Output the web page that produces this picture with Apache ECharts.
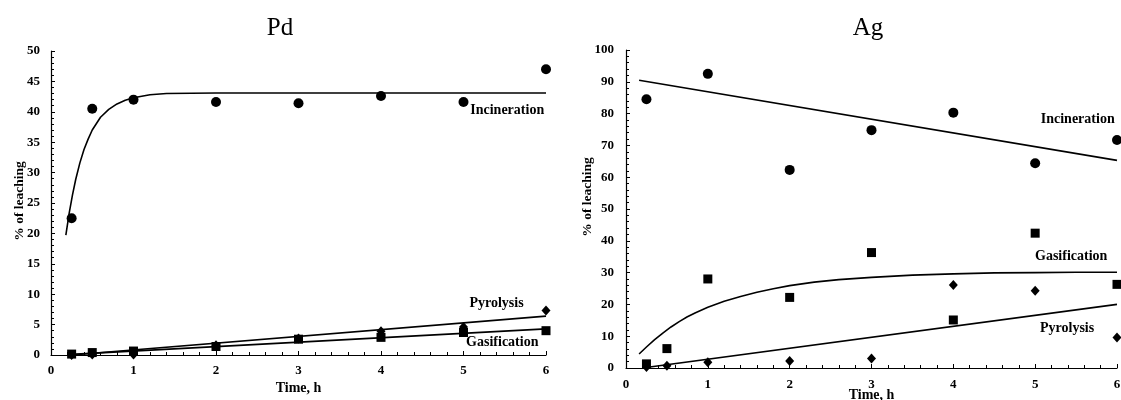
<!DOCTYPE html>
<html><head><meta charset="utf-8">
<script src="https://cdn.jsdelivr.net/npm/echarts@6/dist/echarts.min.js"></script>
<style>html,body{margin:0;padding:0;background:#fff}#c{width:1121px;height:400px}</style>
</head><body><div id="c"></div>
<script>
// ---- data ----
const timeH = [0.25, 0.5, 1, 2, 3, 4, 5, 6];
const xTicks = [0, 1, 2, 3, 4, 5, 6];

// Pd
const pdIncineration = [22.5, 40.5, 42.0, 41.6, 41.4, 42.6, 41.6, 47.0];
const pdPyrolysis    = [0.0, 0.1, 0.1, 1.6, 2.7, 3.9, 4.6, 7.3];
const pdGasification = [0.15, 0.4, 0.65, 1.4, 2.6, 2.9, 3.7, 4.0];
const pdIncFitX = [0.18, 0.22, 0.26, 0.30, 0.35, 0.40, 0.45, 0.5, 0.6, 0.7, 0.8, 0.9, 1.0, 1.2, 1.4, 1.7, 2, 3, 4, 5, 6];
const pdIncFitY = [19.7, 23.3, 26.3, 28.9, 31.6, 33.8, 35.5, 37.0, 39.1, 40.4, 41.3, 41.9, 42.3, 42.8, 43.0, 43.05, 43.1, 43.1, 43.1, 43.1, 43.1];
const pdPyrFitX = [0.25, 6];
const pdPyrFitY = [0.0, 6.4];
const pdGasFitX = [0.25, 6];
const pdGasFitY = [0.1, 4.3];

// Ag
const agIncineration = [84.5, null, 92.5, 62.3, 74.8, 80.3, 64.4, 71.7];
const agGasification = [1.3, 6.1, 28.0, 22.2, 36.3, 15.1, 42.4, 26.3];
const agPyrolysis    = [0.3, 0.7, 1.8, 2.2, 3.0, 26.1, 24.3, 9.6];
const agIncFitX = [0.16, 6];
const agIncFitY = [90.5, 65.3];
const agGasFitX = [0.16, 0.25, 0.35, 0.45, 0.55, 0.65, 0.75, 0.85, 1.0, 1.2, 1.4, 1.6, 1.8, 2.0, 2.3, 2.6, 3.0, 3.5, 4.0, 4.5, 5.0, 5.5, 6.0];
const agGasFitY = [4.4, 6.6, 8.9, 11.0, 12.9, 14.6, 16.1, 17.4, 19.1, 21.0, 22.5, 23.8, 24.9, 25.9, 27.0, 27.8, 28.5, 29.2, 29.6, 29.9, 30.0, 30.1, 30.1];
const agPyrFitX = [0.2, 6];
const agPyrFitY = [0.0, 20.0];

const zip = (xs, ys) => xs.map((x, i) => [x, ys[i]]).filter(p => p[1] !== null);

// ---- styling ----
const FONT = 'Liberation Serif';
const black = '#000';
const lblStyle = { fontFamily: FONT, fontWeight: 'bold', fontSize: 14, color: black };

function xAxisCfg(gi, nameGap, margin) {
  return {
    gridIndex: gi, type: 'value', min: 0, max: 6, interval: 1,
    name: 'Time, h', nameLocation: 'middle', nameGap: nameGap, nameMoveOverlap: false,
    nameTextStyle: { fontFamily: FONT, fontWeight: 'bold', fontSize: 14, color: black },
    axisLine: { show: true, onZero: false, lineStyle: { color: black, width: 1.2 } },
    axisTick: { show: true, inside: true, length: 4, lineStyle: { color: black } },
    minorTick: { show: true, splitNumber: 5, length: 3, lineStyle: { color: black } },
    axisLabel: { fontFamily: FONT, fontWeight: 'bold', fontSize: 13, color: black, margin: margin,
                 formatter: v => xTicks.includes(v) ? String(v) : '' },
    splitLine: { show: false }, minorSplitLine: { show: false }
  };
}
function yAxisCfg(gi, max, interval, nameGap, margin, shift) {
  return {
    gridIndex: gi, type: 'value', min: 0, max: max, interval: interval,
    name: '% of leaching', nameLocation: 'middle', nameGap: nameGap, nameRotate: 90,
    nameMoveOverlap: false,
    nameTextStyle: { fontFamily: FONT, fontWeight: 'bold', fontSize: 13.5, color: black,
                     padding: [0, 0, 0, shift] },
    axisLine: { show: true, onZero: false, lineStyle: { color: black, width: 1.2 } },
    axisTick: { show: true, inside: true, length: 4, lineStyle: { color: black } },
    minorTick: { show: true, splitNumber: 5, length: 3, lineStyle: { color: black } },
    axisLabel: { fontFamily: FONT, fontWeight: 'bold', fontSize: 13, color: black, margin: margin },
    splitLine: { show: false }, minorSplitLine: { show: false }
  };
}
function scatter(gi, data, symbol, size) {
  return { type: 'scatter', xAxisIndex: gi, yAxisIndex: gi, data: data, symbol: symbol,
           symbolSize: size, itemStyle: { color: black, opacity: 1 }, z: 3, silent: true };
}
function fit(gi, data, label) {
  const s = { type: 'line', xAxisIndex: gi, yAxisIndex: gi, data: data, symbol: 'none',
              smooth: false, lineStyle: { color: black, width: 1.6 },
              z: 2, silent: true };
  if (label) {
    s.markPoint = { symbol: 'circle', symbolSize: 0, silent: true,
      data: [{ coord: label.coord, label: Object.assign({ show: true, position: 'inside',
        formatter: label.text }, lblStyle) }] };
  }
  return s;
}

const chart = echarts.init(document.getElementById('c'), null, { renderer: 'canvas' });
chart.setOption({
  animation: false,
  backgroundColor: '#fff',
  graphic: [
    { type: 'text', x: 280, y: 16, style: { text: 'Pd', fontFamily: FONT, fontSize: 25, fill: black, textAlign: 'center' } },
    { type: 'text', x: 868, y: 16, style: { text: 'Ag', fontFamily: FONT, fontSize: 25, fill: black, textAlign: 'center' } }
  ],
  grid: [
    { left: 51, top: 51, width: 495, height: 304, outerBoundsMode: 'none', containLabel: false },
    { left: 626, top: 50, width: 491, height: 318, outerBoundsMode: 'none', containLabel: false }
  ],
  xAxis: [xAxisCfg(0, 26, 9), xAxisCfg(1, 20, 10)],
  yAxis: [yAxisCfg(0, 50, 5, 24, 11, 4), yAxisCfg(1, 100, 10, 31, 12, 24)],
  series: [
    fit(0, zip(pdIncFitX, pdIncFitY), { coord: [5.53, 40.3], text: 'Incineration' }),
    fit(0, zip(pdPyrFitX, pdPyrFitY), { coord: [5.4, 8.5], text: 'Pyrolysis' }),
    fit(0, zip(pdGasFitX, pdGasFitY), { coord: [5.47, 2.0], text: 'Gasification' }),
    scatter(0, zip(timeH, pdIncineration), 'circle', 10),
    scatter(0, zip(timeH, pdPyrolysis), 'diamond', [9, 10]),
    scatter(0, zip(timeH, pdGasification), 'rect', 9),

    fit(1, zip(agIncFitX, agIncFitY), { coord: [5.52, 78.2], text: 'Incineration' }),
    fit(1, zip(agGasFitX, agGasFitY), { coord: [5.44, 35.0], text: 'Gasification' }),
    fit(1, zip(agPyrFitX, agPyrFitY), { coord: [5.39, 12.5], text: 'Pyrolysis' }),
    scatter(1, zip(timeH, agIncineration), 'circle', 10),
    scatter(1, zip(timeH, agGasification), 'rect', 9),
    scatter(1, zip(timeH, agPyrolysis), 'diamond', [9, 10])
  ]
});
</script>
</body></html>
